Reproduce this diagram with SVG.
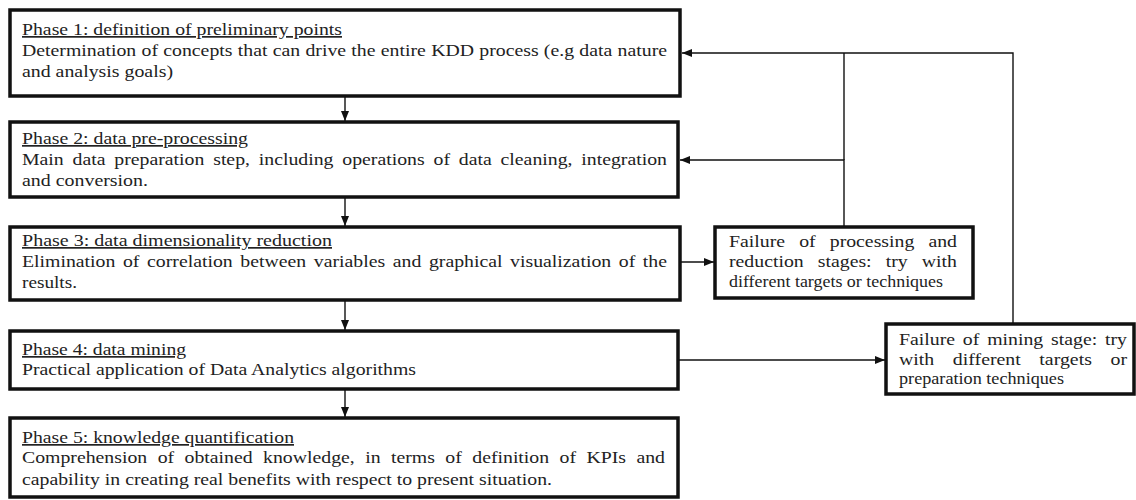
<svg xmlns="http://www.w3.org/2000/svg" width="1136" height="500" viewBox="0 0 1136 500">
<style>
.box{fill:#fff;stroke:#111;stroke-width:3.5}
.t{font-family:"Liberation Serif","Times New Roman",serif;font-size:17px;fill:#222}
.h{text-decoration:underline}
.c{fill:none;stroke:#111;stroke-width:1.4}
</style>
<defs>
<marker id="ah" markerUnits="userSpaceOnUse" markerWidth="10" markerHeight="10" viewBox="0 0 10 10" refX="10" refY="5" orient="auto">
<path d="M0,1 L10,5 L0,9 Z" fill="#111"/>
</marker>
</defs>
<rect width="1136" height="500" fill="#fff"/>
<g id="connectors">
<path class="c" d="M345,96 V121" marker-end="url(#ah)"/>
<path class="c" d="M345,197 V226" marker-end="url(#ah)"/>
<path class="c" d="M345,300 V330" marker-end="url(#ah)"/>
<path class="c" d="M345,389 V417" marker-end="url(#ah)"/>
<path class="c" d="M680,262 H714" marker-end="url(#ah)"/>
<path class="c" d="M678,360 H885" marker-end="url(#ah)"/>
<path class="c" d="M1013,324 V53 H682" marker-end="url(#ah)"/>
<path class="c" d="M844,227 V160 H680" marker-end="url(#ah)"/>
<path class="c" d="M844,160 V53"/>
</g>
<g id="phase1">
<rect class="box" x="10" y="10" width="670" height="86"/>
<text class="t h" x="22" y="35" textLength="320" lengthAdjust="spacingAndGlyphs">Phase 1: definition of preliminary points</text>
<text class="t" x="22" y="56" textLength="645" lengthAdjust="spacingAndGlyphs" word-spacing="0.3">Determination of concepts that can drive the entire KDD process (e.g data nature</text>
<text class="t" x="22" y="77" textLength="151" lengthAdjust="spacingAndGlyphs">and analysis goals)</text>
</g>
<g id="phase2">
<rect class="box" x="10" y="122" width="668" height="75"/>
<text class="t h" x="22" y="144" textLength="226" lengthAdjust="spacingAndGlyphs">Phase 2: data pre-processing</text>
<text class="t" x="22" y="165" textLength="645" lengthAdjust="spacingAndGlyphs" word-spacing="3.33">Main data preparation step, including operations of data cleaning, integration</text>
<text class="t" x="22" y="186" textLength="126" lengthAdjust="spacingAndGlyphs">and conversion.</text>
</g>
<g id="phase3">
<rect class="box" x="10" y="227" width="670" height="73"/>
<text class="t h" x="22" y="246" textLength="310" lengthAdjust="spacingAndGlyphs">Phase 3: data dimensionality reduction</text>
<text class="t" x="22" y="267" textLength="645" lengthAdjust="spacingAndGlyphs" word-spacing="2.29">Elimination of correlation between variables and graphical visualization of the</text>
<text class="t" x="22" y="288" textLength="55" lengthAdjust="spacingAndGlyphs">results.</text>
</g>
<g id="phase4">
<rect class="box" x="10" y="331" width="668" height="58"/>
<text class="t h" x="22" y="355" textLength="164" lengthAdjust="spacingAndGlyphs">Phase 4: data mining</text>
<text class="t" x="22" y="375" textLength="394" lengthAdjust="spacingAndGlyphs">Practical application of Data Analytics algorithms</text>
</g>
<g id="phase5">
<rect class="box" x="10" y="418" width="668" height="79"/>
<text class="t h" x="22" y="443" textLength="272" lengthAdjust="spacingAndGlyphs">Phase 5: knowledge quantification</text>
<text class="t" x="22" y="463" textLength="643" lengthAdjust="spacingAndGlyphs" word-spacing="4.72">Comprehension of obtained knowledge, in terms of definition of KPIs and</text>
<text class="t" x="22" y="485" textLength="530" lengthAdjust="spacingAndGlyphs">capability in creating real benefits with respect to present situation.</text>
</g>
<g id="failure1">
<rect class="box" x="715" y="227" width="258" height="71"/>
<text class="t" x="729" y="247" textLength="228" lengthAdjust="spacingAndGlyphs" word-spacing="7.9">Failure of processing and</text>
<text class="t" x="729" y="267" textLength="228" lengthAdjust="spacingAndGlyphs" word-spacing="7.9">reduction stages: try with</text>
<text class="t" x="729" y="287" textLength="214" lengthAdjust="spacingAndGlyphs">different targets or techniques</text>
</g>
<g id="failure2">
<rect class="box" x="886" y="324" width="248" height="70"/>
<text class="t" x="899" y="345" textLength="228" lengthAdjust="spacingAndGlyphs" word-spacing="2.5">Failure of mining stage: try</text>
<text class="t" x="899" y="365" textLength="228" lengthAdjust="spacingAndGlyphs" word-spacing="11.67">with different targets or</text>
<text class="t" x="899" y="384" textLength="165" lengthAdjust="spacingAndGlyphs">preparation techniques</text>
</g>
</svg>
